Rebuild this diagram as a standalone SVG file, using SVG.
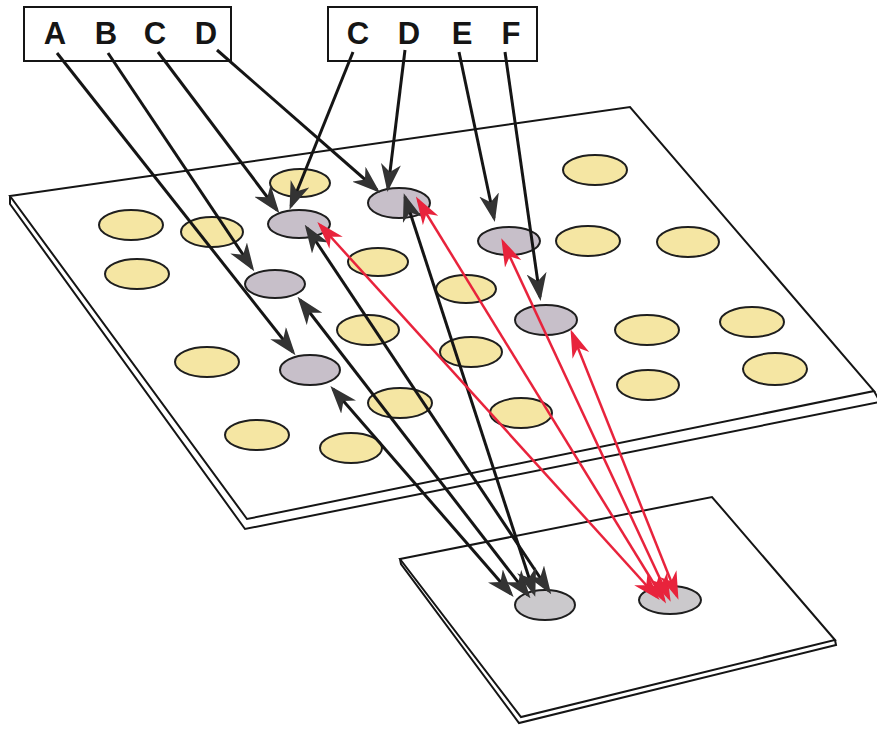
<svg xmlns="http://www.w3.org/2000/svg" width="877" height="731" viewBox="0 0 877 731">
<style>
.plate{fill:#fff;stroke:#151515;stroke-width:2;stroke-linejoin:miter}
.y{fill:#f5e6a3;stroke:#1e1e1e;stroke-width:2}
.g{fill:#c7bfc9;stroke:#1e1e1e;stroke-width:2}
.gb{fill:#cbc9cc;stroke:#1e1e1e;stroke-width:2}
.k{stroke:#151515;stroke-width:3;fill:none}
.r{stroke:#e8233c;stroke-width:2.5;fill:none}
.box{fill:none;stroke:#151515;stroke-width:2}
.lbl{font-family:"Liberation Sans",Arial,sans-serif;font-size:31px;font-weight:bold;fill:#151515;text-anchor:middle}
</style>
<defs>
<marker id="ak" viewBox="0 0 28 20" refX="24" refY="10" markerWidth="28" markerHeight="20" markerUnits="userSpaceOnUse" orient="auto-start-reverse">
<path d="M0,0 L28,10 L0,20 L8,10 z" fill="#333"/>
</marker>
<marker id="ar" viewBox="0 0 28 20" refX="24" refY="10" markerWidth="28" markerHeight="20" markerUnits="userSpaceOnUse" orient="auto-start-reverse">
<path d="M0,1 L28,10 L0,19 L8,10 z" fill="#e8233c"/>
</marker>
</defs>

<g id="big-plate">
<polyline class="plate" points="10,196 10,204 245,529 880,402 874,391"/>
<polygon class="plate" points="10,196 630,107 874,391 247,519"/>
</g>
<g id="small-plate">
<polyline class="plate" points="400,559 401,564 519,723 836,645 835,640"/>
<polygon class="plate" points="400,559 712,497 835,640 521,717"/>
</g>

<g id="yellow-holes">
<ellipse class="y" cx="300" cy="183" rx="30" ry="14"/>
<ellipse class="y" cx="131" cy="225" rx="32" ry="15"/>
<ellipse class="y" cx="212" cy="232" rx="31" ry="15"/>
<ellipse class="y" cx="137" cy="274" rx="32" ry="15"/>
<ellipse class="y" cx="378" cy="262" rx="30" ry="14"/>
<ellipse class="y" cx="595" cy="170" rx="32" ry="15"/>
<ellipse class="y" cx="588" cy="241" rx="32" ry="15"/>
<ellipse class="y" cx="688" cy="242" rx="31" ry="15"/>
<ellipse class="y" cx="466" cy="289" rx="30" ry="14"/>
<ellipse class="y" cx="368" cy="330" rx="31" ry="15"/>
<ellipse class="y" cx="647" cy="330" rx="32" ry="15"/>
<ellipse class="y" cx="752" cy="322" rx="32" ry="15"/>
<ellipse class="y" cx="471" cy="352" rx="31" ry="15"/>
<ellipse class="y" cx="207" cy="362" rx="32" ry="15"/>
<ellipse class="y" cx="400" cy="403" rx="32" ry="15"/>
<ellipse class="y" cx="257" cy="435" rx="32" ry="15"/>
<ellipse class="y" cx="351" cy="448" rx="31" ry="15"/>
<ellipse class="y" cx="521" cy="413" rx="31" ry="15"/>
<ellipse class="y" cx="648" cy="385" rx="31" ry="15"/>
<ellipse class="y" cx="775" cy="369" rx="32" ry="16"/>
</g>

<g id="G1"><ellipse class="g" cx="299" cy="224" rx="31" ry="14"/></g>
<g id="G2"><ellipse class="g" cx="399" cy="203" rx="31" ry="15"/></g>
<g id="G3"><ellipse class="g" cx="275" cy="284" rx="30" ry="14"/></g>
<g id="G4"><ellipse class="g" cx="310" cy="370" rx="30" ry="15"/></g>
<g id="G5"><ellipse class="g" cx="509" cy="241" rx="31" ry="14"/></g>
<g id="G6"><ellipse class="g" cx="546" cy="320" rx="31" ry="15"/></g>
<g id="T1"><ellipse class="gb" cx="545" cy="605" rx="30" ry="15"/></g>
<g id="T2"><ellipse class="gb" cx="670" cy="600" rx="31" ry="14"/></g>

<g id="connectors">
<line class="k" x1="57" y1="53" x2="293" y2="352" marker-end="url(#ak)"/>
<line class="k" x1="108" y1="53" x2="252" y2="268" marker-end="url(#ak)"/>
<line class="k" x1="158" y1="52" x2="277" y2="210" marker-end="url(#ak)"/>
<line class="k" x1="217" y1="50" x2="377" y2="190" marker-end="url(#ak)"/>
<line class="k" x1="353" y1="52" x2="291" y2="206" marker-end="url(#ak)"/>
<line class="k" x1="405" y1="50" x2="388" y2="188" marker-end="url(#ak)"/>
<line class="k" x1="459" y1="52" x2="494" y2="218" marker-end="url(#ak)"/>
<line class="k" x1="505" y1="52" x2="540" y2="297" marker-end="url(#ak)"/>

<line class="k" x1="333" y1="389" x2="511" y2="594" marker-start="url(#ak)" marker-end="url(#ak)"/>
<line class="k" x1="300" y1="300" x2="528" y2="595" marker-start="url(#ak)" marker-end="url(#ak)"/>
<line class="k" x1="307" y1="228" x2="549" y2="591" marker-start="url(#ak)" marker-end="url(#ak)"/>
<line class="k" x1="405" y1="197" x2="534" y2="593" marker-start="url(#ak)" marker-end="url(#ak)"/>

<line class="r" x1="320" y1="225" x2="657" y2="597" marker-start="url(#ar)" marker-end="url(#ar)"/>
<line class="r" x1="418" y1="200" x2="664" y2="600" marker-start="url(#ar)" marker-end="url(#ar)"/>
<line class="r" x1="503" y1="242" x2="669" y2="598" marker-start="url(#ar)" marker-end="url(#ar)"/>
<line class="r" x1="572" y1="333" x2="677" y2="596" marker-start="url(#ar)" marker-end="url(#ar)"/>
</g>

<g id="box-left">
<rect class="box" x="24" y="7" width="207" height="54"/>
<text class="lbl" x="55" y="44">A</text>
<text class="lbl" x="106" y="44">B</text>
<text class="lbl" x="155" y="44">C</text>
<text class="lbl" x="206" y="44">D</text>
</g>
<g id="box-right">
<rect class="box" x="328" y="7" width="209" height="54"/>
<text class="lbl" x="358" y="44">C</text>
<text class="lbl" x="409" y="44">D</text>
<text class="lbl" x="462" y="44">E</text>
<text class="lbl" x="511" y="44">F</text>
</g>
</svg>
